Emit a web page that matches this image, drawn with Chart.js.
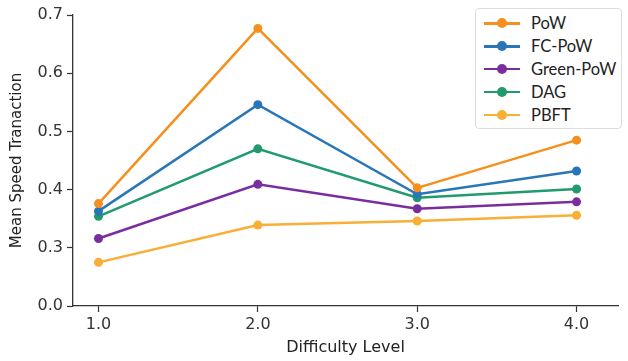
<!DOCTYPE html>
<html>
<head>
<meta charset="utf-8">
<script src="https://cdn.jsdelivr.net/npm/chart.js@4.4.1/dist/chart.umd.min.js"></script>
<style>
    html, body { margin: 0; padding: 0; background: #fff; }
    #wrap { position: relative; width: 628px; height: 361px; }
    #legend {
        position: absolute; left: 475px; top: 8px; width: 145px;
        border: 1px solid #ddd; border-radius: 4px; background: #fff;
        padding: 3px 0 2px 0; font-family: Lato, sans-serif; font-size: 16.5px; color: #222;
    }
    .item { display: flex; align-items: center; height: 22.8px; }
    .swatch { position: relative; width: 36px; height: 10px; margin: 0 11px 0 8px; }
    .swatch .ln { position: absolute; left: 0; right: 0; top: 4px; height: 2.5px; }
    .swatch .dot { position: absolute; left: 13px; top: 0; width: 10px; height: 10px; border-radius: 50%; }
</style>
</head>
<body>
<div id="wrap">
    <canvas id="chart" width="628" height="361"></canvas>
    <div id="legend"></div>
</div>
<script>
/* ---------- data ---------- */
const difficulty = [1.0, 2.0, 3.0, 4.0];

const seriesNames  = ["PoW", "FC-PoW", "Green-PoW", "DAG", "PBFT"];
const seriesColors = ["#f5901f", "#2876b8", "#7a2e9e", "#219a6e", "#f9ae35"];

const powVals      = [0.376, 0.677, 0.403, 0.485];
const fcPowVals    = [0.363, 0.546, 0.392, 0.432];
const greenPowVals = [0.316, 0.409, 0.367, 0.379];
const dagVals      = [0.354, 0.470, 0.386, 0.401];
const pbftVals     = [0.275, 0.339, 0.346, 0.356];

// the y axis is cut: the bottom tick sits where 0.2 would be, labelled 0.0
const yTickValues = [0.2, 0.3, 0.4, 0.5, 0.6, 0.7];
const yTickLabels = ["0.0", "0.3", "0.4", "0.5", "0.6", "0.7"];
const xTickLabels = ["1.0", "2.0", "3.0", "4.0"];

const allSeries = [powVals, fcPowVals, greenPowVals, dagVals, pbftVals];

/* ---------- build datasets ---------- */
const datasets = allSeries.map((vals, i) => ({
    label: seriesNames[i],
    data: vals.map((v, k) => ({ x: difficulty[k], y: v })),
    borderColor: seriesColors[i],
    backgroundColor: seriesColors[i],
    pointBackgroundColor: seriesColors[i],
    borderWidth: 2.5,
    pointRadius: 4.5,
    pointBorderWidth: 0,
    tension: 0
}));

const axisColor = "#333";
const tickFont = { family: "DejaVu Sans", size: 16 };

new Chart(document.getElementById("chart").getContext("2d"), {
    type: "line",
    data: { datasets },
    options: {
        responsive: false,
        animation: false,
        layout: { padding: { top: 15, right: 10, left: 0, bottom: 0 } },
        plugins: { legend: { display: false }, tooltip: { enabled: false } },
        scales: {
            x: {
                type: "linear",
                min: 0.84,
                max: 4.26,
                afterBuildTicks: s => { s.ticks = difficulty.map(v => ({ value: v })); },
                afterFit: s => { s.height = 55; },
                ticks: {
                    color: axisColor, font: tickFont, padding: 3,
                    callback: (v) => xTickLabels[difficulty.indexOf(v)]
                },
                grid: { drawOnChartArea: false, tickLength: 6, tickColor: axisColor, tickWidth: 1.2 },
                border: { color: axisColor, width: 1.3 },
                title: {
                    display: true, text: "Difficulty Level", color: "#222",
                    font: { family: "DejaVu Sans", size: 16 }, padding: { top: 0 }
                }
            },
            y: {
                min: 0.2,
                max: 0.7,
                afterBuildTicks: s => { s.ticks = yTickValues.map(v => ({ value: v })); },
                afterFit: s => { s.width = 73; },
                ticks: {
                    color: axisColor, font: tickFont, padding: 4,
                    callback: (v) => {
                        const i = yTickValues.findIndex(t => Math.abs(t - v) < 1e-9);
                        return i >= 0 ? yTickLabels[i] : "";
                    }
                },
                grid: { drawOnChartArea: false, tickLength: 6, tickColor: axisColor, tickWidth: 1.2 },
                border: { color: axisColor, width: 1.3 },
                title: {
                    display: true, text: "Mean Speed Tranaction", color: "#222",
                    font: { family: "DejaVu Sans", size: 15 }, padding: { top: 8, bottom: 0 }
                }
            }
        }
    }
});

/* ---------- legend (line + marker swatches) ---------- */
const legend = document.getElementById("legend");
seriesNames.forEach((name, i) => {
    const row = document.createElement("div");
    row.className = "item";
    row.innerHTML = `<span class="swatch"><span class="ln" style="background:${seriesColors[i]}"></span>` +
        `<span class="dot" style="background:${seriesColors[i]}"></span></span><span>${name}</span>`;
    legend.appendChild(row);
});
</script>
</body>
</html>
